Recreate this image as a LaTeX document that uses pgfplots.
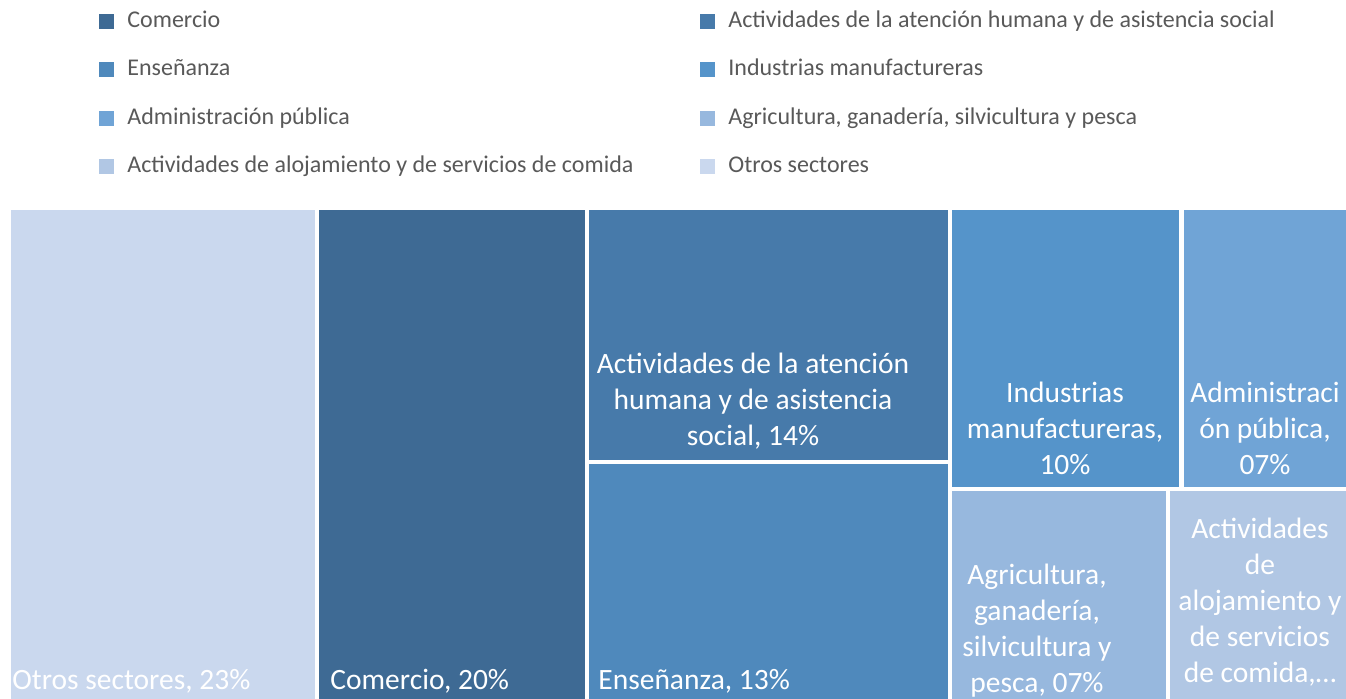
\documentclass[border=0pt]{standalone}
\usepackage{pgfplots}
\pgfplotsset{compat=1.18}
\usepackage{fontspec}
\setmainfont{Carlito}

\definecolor{cOtros}{HTML}{CAD8EE}
\definecolor{cCom}{HTML}{3E6A94}
\definecolor{cAte}{HTML}{477AAA}
\definecolor{cEns}{HTML}{4F89BC}
\definecolor{cInd}{HTML}{5594CA}
\definecolor{cAdm}{HTML}{70A4D6}
\definecolor{cAgr}{HTML}{97B8DE}
\definecolor{cAlo}{HTML}{B1C7E4}
\definecolor{legtext}{HTML}{595959}

\newcommand{\lbox}[1]{\makebox[286.5pt][l]{#1}}

\begin{document}
\begin{tikzpicture}
\begin{axis}[
  scale only axis,
  width=673pt, height=349.5pt,
  xmin=0, xmax=1346, ymin=0, ymax=699,
  y dir=reverse,
  hide axis,
  every axis plot/.append style={mark=none, draw=none},
  legend columns=2,
  legend cell align=left,
  legend image code/.code={\fill[#1, draw=none] (0pt,-3.75pt) rectangle (7.5pt,3.75pt);},
  legend style={
    at={(axis cs:99,9)}, anchor=north west,
    draw=none, fill=none, inner sep=0pt,
    font=\fontsize{12}{14}\selectfont, text=legtext,
    nodes={inner sep=0pt, text height=9pt, text depth=3pt},
    row sep=12.2pt,
    /tikz/every odd column/.append style={column sep=6.5pt},
  },
]
% corners of the picture
\addplot[forget plot] coordinates {(0,0) (1346,699)};

% treemap rectangles (pixel units)
\addplot[fill=cCom] coordinates {(319,210) (585,210) (585,699) (319,699)};
\addlegendentry{\lbox{Comercio}}
\addplot[fill=cAte] coordinates {(589,210) (948,210) (948,460) (589,460)};
\addlegendentry{Actividades de la atención humana y de asistencia social}
\addplot[fill=cEns] coordinates {(589,464) (948,464) (948,699) (589,699)};
\addlegendentry{\lbox{Enseñanza}}
\addplot[fill=cInd] coordinates {(952,210) (1179,210) (1179,487) (952,487)};
\addlegendentry{Industrias manufactureras}
\addplot[fill=cAdm] coordinates {(1184,210) (1346,210) (1346,487) (1184,487)};
\addlegendentry{\lbox{Administración pública}}
\addplot[fill=cAgr] coordinates {(952,491) (1166,491) (1166,699) (952,699)};
\addlegendentry{Agricultura, ganadería, silvicultura y pesca}
\addplot[fill=cAlo] coordinates {(1170,491) (1346,491) (1346,699) (1170,699)};
\addlegendentry{\lbox{Actividades de alojamiento y de servicios de comida}}
\addplot[fill=cOtros] coordinates {(11,210) (315,210) (315,699) (11,699)};
\addlegendentry{Otros sectores}

% data labels
\begin{scope}[every node/.style={text=white, font=\fontsize{14.75}{18}\selectfont, inner sep=0pt}]
\node[anchor=base west] at (axis cs:12,690) {Otros sectores, 23\%};
\node[anchor=base west] at (axis cs:330,690) {Comercio, 20\%};
\node[anchor=base west] at (axis cs:598,690) {Enseñanza, 13\%};
\node[align=center] at (axis cs:753,401) {Actividades de la atención\\humana y de asistencia\\social, 14\%};
\node[align=center] at (axis cs:1065,428) {Industrias\\manufactureras,\\10\%};
\node[align=center] at (axis cs:1265,428) {Administraci\\ón pública,\\07\%};
\node[align=center] at (axis cs:1037,631) {Agricultura,\\ganadería,\\silvicultura y\\pesca, 07\%};
\node[align=center] at (axis cs:1260,602) {Actividades\\de\\alojamiento y\\de servicios\\de comida,\dots};
\end{scope}
\end{axis}
\end{tikzpicture}
\end{document}
